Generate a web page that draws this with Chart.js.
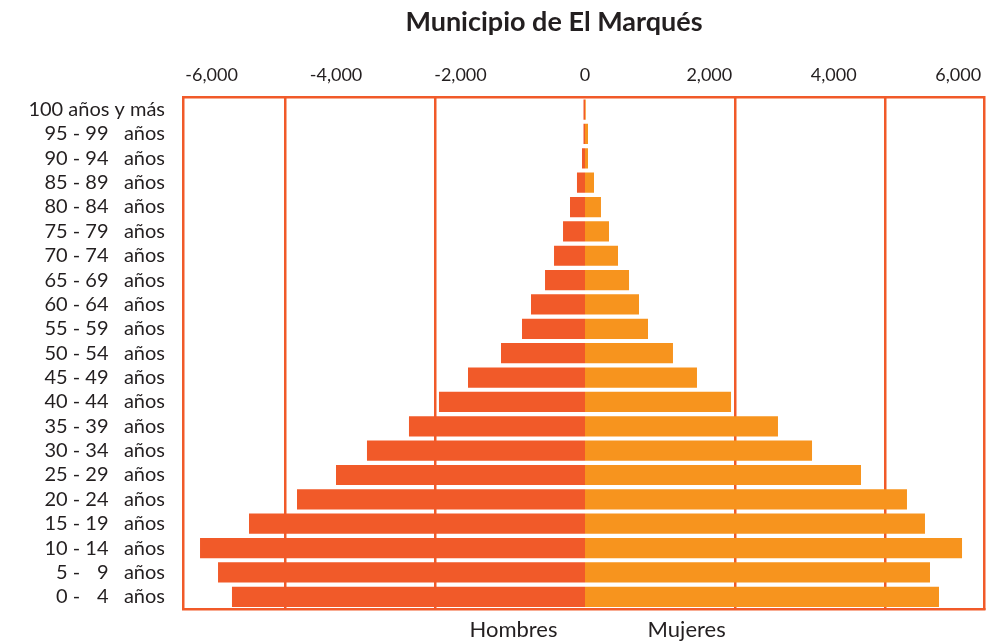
<!DOCTYPE html>
<html>
<head>
<meta charset="utf-8">
<script src="https://cdn.jsdelivr.net/npm/chart.js@4/dist/chart.umd.min.js"></script>
<style>
  html, body { margin: 0; padding: 0; background: #fff; }
  #wrap { width: 986px; height: 643px; }
</style>
</head>
<body>
<div id="wrap"><canvas id="myChart"></canvas></div>
<script>
// age groups, youngest first (drawn bottom to top)
const ageGroups = [
    '0 - \u20074   años', '5 - \u20079   años', '10 - 14   años', '15 - 19   años', '20 - 24   años',
    '25 - 29   años', '30 - 34   años', '35 - 39   años', '40 - 44   años', '45 - 49   años',
    '50 - 54   años', '55 - 59   años', '60 - 64   años', '65 - 69   años', '70 - 74   años',
    '75 - 79   años', '80 - 84   años', '85 - 89   años', '90 - 94   años', '95 - 99   años',
    '100 años y más'
];
const hombres = [4707, 4893, 5133, 4480, 3840, 3320, 2907, 2347, 1947, 1560, 1120, 840, 720, 533, 413, 293, 200, 107, 40, 20, 20];
const mujeres = [4720, 4600, 5027, 4533, 4293, 3680, 3027, 2573, 1947, 1493, 1173, 840, 720, 587, 440, 320, 213, 120, 40, 40, 10];
const topTickValues = [-6000, -4000, -2000, 0, 2000, 4000, 6000];
const gridValues = [-4000, -2000, 2000, 4000];

const lineColor = '#F15A29';
const textColor = '#231F20';
const fontFamily = 'Lato, "Open Sans", sans-serif';

const data = {
    labels: ageGroups,
    datasets: [{
        label: 'Hombres',
        backgroundColor: '#F15A29',
        data: hombres.map(v => -v),
        categoryPercentage: 1,
        barPercentage: 0.83
    }, {
        label: 'Mujeres',
        backgroundColor: '#F7941E',
        data: mujeres,
        categoryPercentage: 1,
        barPercentage: 0.83
    }]
};

const noSidePadding = scale => {
    scale.paddingLeft = 0;
    scale.paddingRight = 0;
};

const config = {
    type: 'bar',
    data,
    options: {
        indexAxis: 'y',
        responsive: false,
        animation: false,
        layout: { padding: { left: 0, right: 2, top: 0, bottom: 0 } },
        plugins: {
            legend: { display: false },
            tooltip: { enabled: false },
            title: {
                display: true,
                text: 'Municipio de El Marqués         ',
                fullSize: false,
                color: textColor,
                font: { family: fontFamily, size: 27, weight: 'bold' },
                padding: { top: 6, bottom: 8 }
            }
        },
        scales: {
            x: {
                stacked: true,
                min: -5360,
                max: 5320,
                ticks: { display: false },
                afterBuildTicks: scale => { scale.ticks = gridValues.map(v => ({ value: v })); },
                grid: { drawTicks: false, lineWidth: 2.5, color: lineColor },
                border: { display: true, color: lineColor, width: 2.5 },
                title: {
                    display: true,
                    text: '     Hombres                Mujeres',
                    color: textColor,
                    font: { family: fontFamily, size: 22 },
                    padding: { top: 0, bottom: 0 }
                },
                afterFit: scale => { noSidePadding(scale); scale.height = 34; }
            },
            x2: {
                position: 'top',
                type: 'linear',
                min: -6460,
                max: 6415,
                grid: { display: false, drawTicks: false },
                border: { display: true, color: lineColor, width: 2.5 },
                afterBuildTicks: scale => { scale.ticks = topTickValues.map(v => ({ value: v })); },
                ticks: {
                    maxRotation: 0,
                    autoSkip: false,
                    padding: 11,
                    color: textColor,
                    font: { family: fontFamily, size: 18 },
                    callback: v => v.toLocaleString('en-US')
                },
                afterFit: scale => { noSidePadding(scale); scale.height = 51; }
            },
            y: {
                stacked: true,
                reverse: true,
                grid: { display: false, drawTicks: false },
                border: { display: true, color: lineColor, width: 2.5 },
                ticks: {
                    autoSkip: false,
                    padding: 18,
                    color: textColor,
                    font: { family: fontFamily, size: 20 }
                },
                afterFit: scale => { scale.width = 183; scale.paddingTop = 0; scale.paddingBottom = 0; }
            },
            y2: {
                position: 'right',
                type: 'linear',
                grid: { display: false, drawTicks: false },
                border: { display: true, color: lineColor, width: 2.5 },
                ticks: { display: false },
                afterFit: scale => { scale.width = 0; }
            }
        }
    }
};

const canvas = document.querySelector('#myChart');
canvas.width = 986;
canvas.height = 643;
const myChart = new Chart(canvas, config);
</script>
</body>
</html>
